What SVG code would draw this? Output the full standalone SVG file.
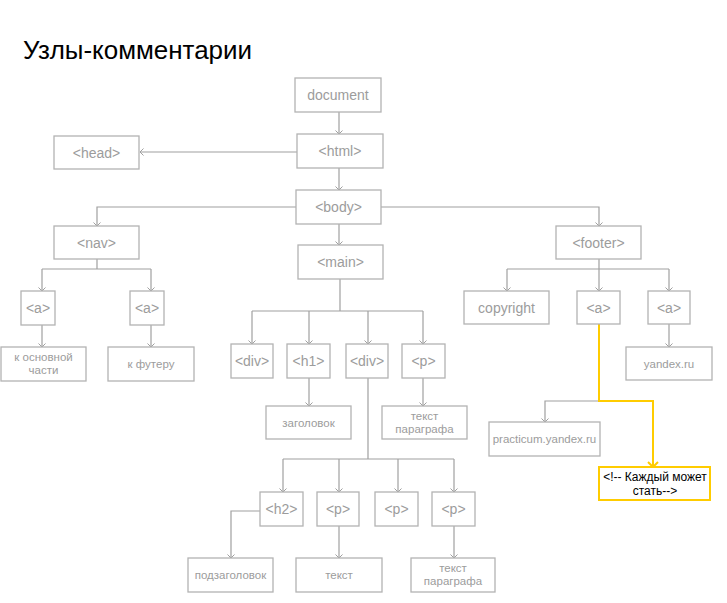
<svg xmlns="http://www.w3.org/2000/svg" width="727" height="603" viewBox="0 0 727 603">
<style>
.b{fill:#fff;stroke:#b3b3b3;stroke-width:1.3}
.t{font-family:"Liberation Sans",Arial,sans-serif;font-size:14px;fill:#9c9c9c;text-anchor:middle}
.t2{font-family:"Liberation Sans",Arial,sans-serif;font-size:11.5px;fill:#9c9c9c;text-anchor:middle}
.c{fill:none;stroke:#a0a0a0;stroke-width:1.2}
.y{fill:none;stroke:#FFCC00;stroke-width:2}
.yb{fill:#fff;stroke:#FFCC00;stroke-width:2}
.ct{font-family:"Liberation Sans",Arial,sans-serif;font-size:12px;fill:#000;text-anchor:middle}
</style>
<defs>
<marker id="ar" markerUnits="userSpaceOnUse" markerWidth="10" markerHeight="10" refX="5" refY="5" orient="auto">
<path d="M1.5,1.5 L5,5 L1.5,8.5" fill="none" stroke="#a0a0a0" stroke-width="1"/>
</marker>
<marker id="ay" markerUnits="userSpaceOnUse" markerWidth="14" markerHeight="14" refX="7" refY="7" orient="auto">
<path d="M2,2 L7,7 L2,12" fill="none" stroke="#FFCC00" stroke-width="2"/>
</marker>
</defs>
<rect width="727" height="603" fill="#fff"/>
<text x="23" y="59" font-family="'Liberation Sans',Arial,sans-serif" font-size="25" fill="#000" textLength="229" lengthAdjust="spacingAndGlyphs">Узлы-комментарии</text>

<g id="connectors">
<path class="c" marker-end="url(#ar)" d="M339,112 V134"/>
<path class="c" marker-end="url(#ar)" d="M297,152 H140"/>
<path class="c" marker-end="url(#ar)" d="M339,168 V190"/>
<path class="c" marker-end="url(#ar)" d="M296,207 H97 V226"/>
<path class="c" marker-end="url(#ar)" d="M381,207 H599 V226"/>
<path class="c" marker-end="url(#ar)" d="M339,224 V245"/>
<path class="c" d="M97,259 V269 M42,269 H151"/>
<path class="c" marker-end="url(#ar)" d="M42,269 V291"/>
<path class="c" marker-end="url(#ar)" d="M151,269 V291"/>
<path class="c" marker-end="url(#ar)" d="M42,325 V347"/>
<path class="c" marker-end="url(#ar)" d="M151,325 V347"/>
<path class="c" d="M340,279 V311 M252,311 H423"/>
<path class="c" marker-end="url(#ar)" d="M252,311 V344"/>
<path class="c" marker-end="url(#ar)" d="M309,311 V344"/>
<path class="c" marker-end="url(#ar)" d="M368,311 V344"/>
<path class="c" marker-end="url(#ar)" d="M423,311 V344"/>
<path class="c" marker-end="url(#ar)" d="M309,378 V406"/>
<path class="c" marker-end="url(#ar)" d="M423,378 V406"/>
<path class="c" d="M368,378 V459 M283,459 H454"/>
<path class="c" marker-end="url(#ar)" d="M283,459 V492"/>
<path class="c" marker-end="url(#ar)" d="M339,459 V492"/>
<path class="c" marker-end="url(#ar)" d="M398,459 V492"/>
<path class="c" marker-end="url(#ar)" d="M454,459 V492"/>
<path class="c" marker-end="url(#ar)" d="M260,511 H231 V558"/>
<path class="c" marker-end="url(#ar)" d="M339,526 V558"/>
<path class="c" marker-end="url(#ar)" d="M454,526 V558"/>
<path class="c" d="M599,259 V269 M507,269 H669"/>
<path class="c" marker-end="url(#ar)" d="M507,269 V291"/>
<path class="c" marker-end="url(#ar)" d="M599,269 V291"/>
<path class="c" marker-end="url(#ar)" d="M669,269 V291"/>
<path class="c" marker-end="url(#ar)" d="M669,324 V347"/>
<path class="c" marker-end="url(#ar)" d="M599,401 H545 V422"/>
<path class="y" marker-end="url(#ay)" d="M599,324 V401 H653 V467"/>
</g>

<g id="document"><rect class="b" x="295" y="78" width="86" height="34"/><text class="t" x="338" y="100">document</text></g>
<g id="html"><rect class="b" x="297" y="134" width="86" height="34"/><text class="t" x="340" y="156">&lt;html&gt;</text></g>
<g id="head"><rect class="b" x="54" y="136" width="85" height="33"/><text class="t" x="96.5" y="157.5">&lt;head&gt;</text></g>
<g id="body"><rect class="b" x="296" y="190" width="85" height="34"/><text class="t" x="338.5" y="212">&lt;body&gt;</text></g>
<g id="nav"><rect class="b" x="54" y="226" width="85" height="33"/><text class="t" x="96.5" y="247.5">&lt;nav&gt;</text></g>
<g id="main"><rect class="b" x="298" y="245" width="85" height="34"/><text class="t" x="340.5" y="267">&lt;main&gt;</text></g>
<g id="footer"><rect class="b" x="556" y="226" width="85" height="33"/><text class="t" x="598.5" y="247.5">&lt;footer&gt;</text></g>

<g id="nav-a1"><rect class="b" x="21" y="291" width="34" height="34"/><text class="t" x="38" y="313">&lt;a&gt;</text></g>
<g id="nav-a2"><rect class="b" x="130" y="291" width="34" height="34"/><text class="t" x="147" y="313">&lt;a&gt;</text></g>
<g id="to-main"><rect class="b" x="1" y="347" width="85" height="34"/><text class="t2" x="43.5" y="360.5">к основной</text><text class="t2" x="43.5" y="374">части</text></g>
<g id="to-footer"><rect class="b" x="108" y="347" width="86" height="34"/><text class="t2" x="151" y="368">к футеру</text></g>

<g id="div1"><rect class="b" x="231" y="344" width="42" height="34"/><text class="t" x="252" y="366">&lt;div&gt;</text></g>
<g id="h1"><rect class="b" x="287" y="344" width="43" height="34"/><text class="t" x="308.5" y="366">&lt;h1&gt;</text></g>
<g id="div2"><rect class="b" x="346" y="344" width="42" height="34"/><text class="t" x="367" y="366">&lt;div&gt;</text></g>
<g id="p-main"><rect class="b" x="402" y="344" width="43" height="34"/><text class="t" x="423.5" y="366">&lt;p&gt;</text></g>
<g id="heading"><rect class="b" x="266" y="406" width="85" height="33"/><text class="t2" x="308.5" y="426.5">заголовок</text></g>
<g id="para-text1"><rect class="b" x="382" y="406" width="85" height="33"/><text class="t2" x="424.5" y="419.5">текст</text><text class="t2" x="424.5" y="433">параграфа</text></g>

<g id="h2"><rect class="b" x="260" y="492" width="43" height="34"/><text class="t" x="281.5" y="514">&lt;h2&gt;</text></g>
<g id="p1"><rect class="b" x="317" y="492" width="42" height="34"/><text class="t" x="338" y="514">&lt;p&gt;</text></g>
<g id="p2"><rect class="b" x="375" y="492" width="43" height="34"/><text class="t" x="396.5" y="514">&lt;p&gt;</text></g>
<g id="p3"><rect class="b" x="432" y="492" width="43" height="34"/><text class="t" x="453.5" y="514">&lt;p&gt;</text></g>
<g id="subheading"><rect class="b" x="188" y="558" width="85" height="34"/><text class="t2" x="230.5" y="579">подзаголовок</text></g>
<g id="text"><rect class="b" x="296" y="558" width="86" height="34"/><text class="t2" x="339" y="579">текст</text></g>
<g id="para-text2"><rect class="b" x="411" y="558" width="84" height="34"/><text class="t2" x="453" y="571.5">текст</text><text class="t2" x="453" y="585">параграфа</text></g>

<g id="copyright"><rect class="b" x="464" y="291" width="85" height="33"/><text class="t" x="506.5" y="312.5">copyright</text></g>
<g id="footer-a1"><rect class="b" x="577" y="291" width="43" height="33"/><text class="t" x="598.5" y="312.5">&lt;a&gt;</text></g>
<g id="footer-a2"><rect class="b" x="648" y="291" width="42" height="33"/><text class="t" x="669" y="312.5">&lt;a&gt;</text></g>
<g id="yandex"><rect class="b" x="626" y="347" width="86" height="33"/><text class="t2" x="669" y="367.5">yandex.ru</text></g>
<g id="practicum"><rect class="b" x="489" y="422" width="111" height="34"/><text class="t2" x="544.5" y="443" font-size="11.3">practicum.yandex.ru</text></g>
<g id="comment"><rect class="yb" x="599" y="467" width="111" height="33"/><text class="ct" x="655" y="481">&lt;!-- Каждый может</text><text class="ct" x="655" y="495">стать--&gt;</text></g>
</svg>
